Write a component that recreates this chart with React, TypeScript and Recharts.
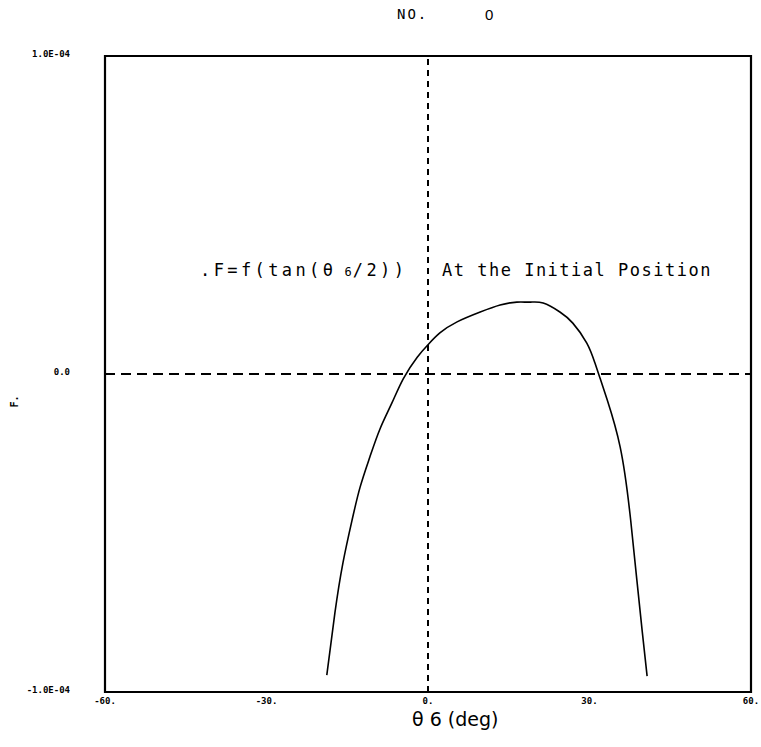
import React from 'react';
import { LineChart, Line, XAxis, YAxis, ReferenceLine, ReferenceArea } from 'recharts';

// Joint angle theta6 (deg) and the resulting F value (units of 1e-4)
const thetaDeg = [
  -18.8, -17.3, -15.8, -14.1, -12.6, -10.8, -8.9, -6.7, -4.6, -2.0, 0.0, 2.2, 5.4, 9.7,
  13.4, 16.5, 19.0, 21.4, 24.5, 26.9, 29.5, 31.0, 32.0, 33.3, 35.7, 37.5, 38.8, 39.8, 40.7,
];
const forceE4 = [
  -0.947, -0.752, -0.594, -0.459, -0.355, -0.261, -0.172, -0.091, -0.015, 0.053, 0.092, 0.129,
  0.164, 0.195, 0.217, 0.226, 0.226, 0.223, 0.195, 0.16, 0.097, 0.035, -0.015, -0.082, -0.23,
  -0.437, -0.648, -0.81, -0.95,
];

const xTicks = [-60, -30, 0, 30, 60];
const yTicks = [-1e-4, 0, 1e-4];

const data = thetaDeg.map((t, i) => ({ theta: t, f: forceE4[i] * 1e-4 }));

const formatExp = (v: number) => {
  if (v === 0) return '0.0';
  const sign = v < 0 ? '-' : '';
  const e = Math.floor(Math.log10(Math.abs(v)) + 1e-9);
  const m = Math.abs(v) / Math.pow(10, e);
  return `${sign}${m.toFixed(1)}E${e < 0 ? '-' : '+'}${String(Math.abs(e)).padStart(2, '0')}`;
};

const tickFont = '"DejaVu Sans Mono", monospace';

const YTick = (props: any) => {
  const { y, payload } = props;
  return (
    <text x={70} y={y + 1} textAnchor="end" fontFamily={tickFont} fontSize={9} fontWeight="bold" fill="#000">
      {formatExp(payload.value)}
    </text>
  );
};

const monoText: React.CSSProperties = {
  position: 'absolute',
  fontFamily: '"DejaVu Sans Mono", monospace',
  color: '#000',
  whiteSpace: 'pre',
};

export default function App() {
  return (
    <div style={{ position: 'absolute', left: 0, top: 0, width: 761, height: 747, background: '#fff', overflow: 'hidden' }}>
      <LineChart width={761} height={747} data={data} margin={{ top: 56, right: 10, bottom: 25, left: 0 }}>
        <XAxis
          dataKey="theta"
          type="number"
          domain={[-60, 60]}
          ticks={xTicks}
          interval={0}
          axisLine={false}
          tickLine={false}
          tickSize={4}
          tickMargin={2}
          height={30}
          tick={{ fontFamily: tickFont, fontSize: 9, fontWeight: 'bold', fill: '#000' }}
          tickFormatter={(v: number) => `${v}.`}
          allowDataOverflow
        />
        <YAxis
          type="number"
          domain={[-1e-4, 1e-4]}
          ticks={yTicks}
          interval={0}
          axisLine={false}
          tickLine={false}
          width={105}
          tick={<YTick />}
          allowDataOverflow
        />
        <ReferenceArea x1={-60} x2={60} y1={-1e-4} y2={1e-4} fill="none" stroke="#000" strokeWidth={2.2} ifOverflow="visible" />
        <ReferenceLine x={0} stroke="#000" strokeWidth={2} strokeDasharray="6 5" />
        <ReferenceLine y={0} stroke="#000" strokeWidth={2} strokeDasharray="10 6" />
        <Line
          type="natural"
          dataKey="f"
          stroke="#000"
          strokeWidth={1.6}
          dot={false}
          isAnimationActive={false}
        />
      </LineChart>

      <div style={{ ...monoText, left: 397, top: 6, fontSize: 14, letterSpacing: 2 }}>NO.</div>
      <div style={{ ...monoText, left: 485, top: 6, fontSize: 15, fontFamily: '"Liberation Sans", sans-serif' }}>0</div>

      <div style={{ ...monoText, left: 200, top: 259, fontSize: 17, lineHeight: '22px', letterSpacing: 3.4 }}>
        .F=f(tan(θ<span style={{ fontSize: 12, letterSpacing: 1 }}> 6</span>/2))
      </div>
      <div style={{ ...monoText, left: 442, top: 259, fontSize: 17, lineHeight: '22px', letterSpacing: 1.5 }}>
        At the Initial Position
      </div>

      <div
        style={{
          ...monoText,
          left: 8,
          top: 396,
          fontSize: 10,
          fontWeight: 'bold',
          transform: 'rotate(-90deg)',
          transformOrigin: 'center',
        }}
      >
        F.
      </div>

      <div style={{ ...monoText, left: 412, top: 708, fontSize: 19, lineHeight: '22px', fontFamily: '"DejaVu Sans", sans-serif' }}>
        θ 6 (deg)
      </div>
    </div>
  );
}
